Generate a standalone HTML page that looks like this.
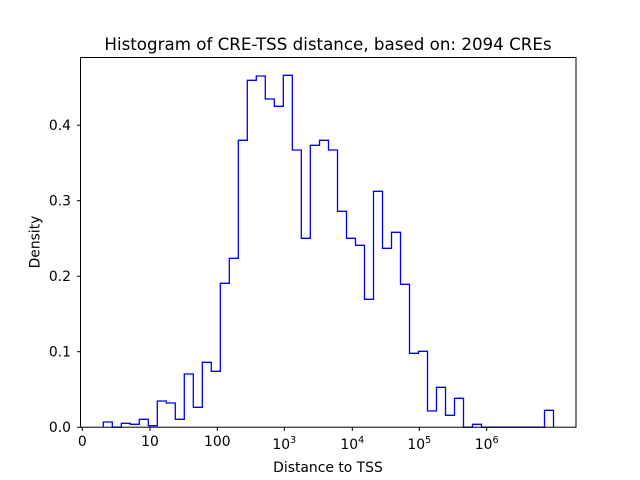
<!DOCTYPE html>
<html><head><meta charset="utf-8"><style>body{margin:0;background:#fff}svg{display:block}</style></head><body>
<svg width="640" height="480" xmlns="http://www.w3.org/2000/svg" font-family="DejaVu Sans, Liberation Sans, sans-serif">
<rect width="640" height="480" fill="#fff"/>
<path fill="none" stroke="#0000ff" stroke-width="1.3" d="M103.3,427.2 V422 H112.3 V427.2 H121.3 V423.3 H130.3 V424.3 H139.3 V419.3 H148.3 V425.7 H157.3 V401 H166.3 V403 H175.3 V419.3 H184.3 V374 H193.3 V407.3 H202.3 V362.3 H211.3 V371.3 H220.3 V283.3 H229.3 V258.3 H238.3 V140.3 H247.3 V80.3 H256.3 V76 H265.3 V99 H274.3 V106.3 H283.3 V75.3 H292.3 V150 H301.3 V238.3 H310.3 V145.3 H319.5 V140.3 H328.5 V150 H337.5 V211.3 H346.5 V238.3 H355.5 V245.3 H364.5 V299.3 H373.5 V191.3 H382.5 V248.3 H391.5 V232.3 H400.5 V284.3 H409.5 V353.3 H418.5 V351.3 H427.5 V411 H436.5 V387.3 H445.5 V415.3 H454.5 V398.3 H463.5 V427.2 H472.5 V424.3 H481.5 V427.2 H544.5 V410.3 H553.5 V427.2"/>
<rect x="80.5" y="57.5" width="495.5" height="369.7" fill="none" stroke="#000" stroke-width="1"/>
<g stroke="#000" stroke-width="1">
<line x1="82.3" y1="427.2" x2="82.3" y2="431"/><line x1="150" y1="427.2" x2="150" y2="431"/><line x1="217.3" y1="427.2" x2="217.3" y2="431"/><line x1="284.3" y1="427.2" x2="284.3" y2="431"/><line x1="352.3" y1="427.2" x2="352.3" y2="431"/><line x1="419.3" y1="427.2" x2="419.3" y2="431"/><line x1="486.7" y1="427.2" x2="486.7" y2="431"/>
<line x1="77" y1="427.2" x2="80.5" y2="427.2"/><line x1="77" y1="351.7" x2="80.5" y2="351.7"/><line x1="77" y1="276.2" x2="80.5" y2="276.2"/><line x1="77" y1="200.7" x2="80.5" y2="200.7"/><line x1="77" y1="125.2" x2="80.5" y2="125.2"/>
</g>
<g font-size="13.9" text-anchor="middle" fill="#000">
<text x="82.3" y="446">0</text><text x="150" y="446">10</text><text x="217.3" y="446">100</text>
<text x="284.3" y="449">10<tspan dy="-6" font-size="9.7">3</tspan></text>
<text x="352.3" y="449">10<tspan dy="-6" font-size="9.7">4</tspan></text>
<text x="419.3" y="449">10<tspan dy="-6" font-size="9.7">5</tspan></text>
<text x="486.7" y="449">10<tspan dy="-6" font-size="9.7">6</tspan></text>
</g>
<g font-size="13.9" text-anchor="end" fill="#000">
<text x="71" y="432">0.0</text><text x="71" y="356.5">0.1</text><text x="71" y="281">0.2</text><text x="71" y="205.5">0.3</text><text x="71" y="130">0.4</text>
</g>
<text x="328" y="472" font-size="13.9" text-anchor="middle">Distance to TSS</text>
<text x="39.5" y="242" font-size="13.9" text-anchor="middle" transform="rotate(-90 39.5 242)">Density</text>
<text x="328" y="50" font-size="16.7" text-anchor="middle">Histogram of CRE-TSS distance, based on: 2094 CREs</text>
</svg>
</body></html>
